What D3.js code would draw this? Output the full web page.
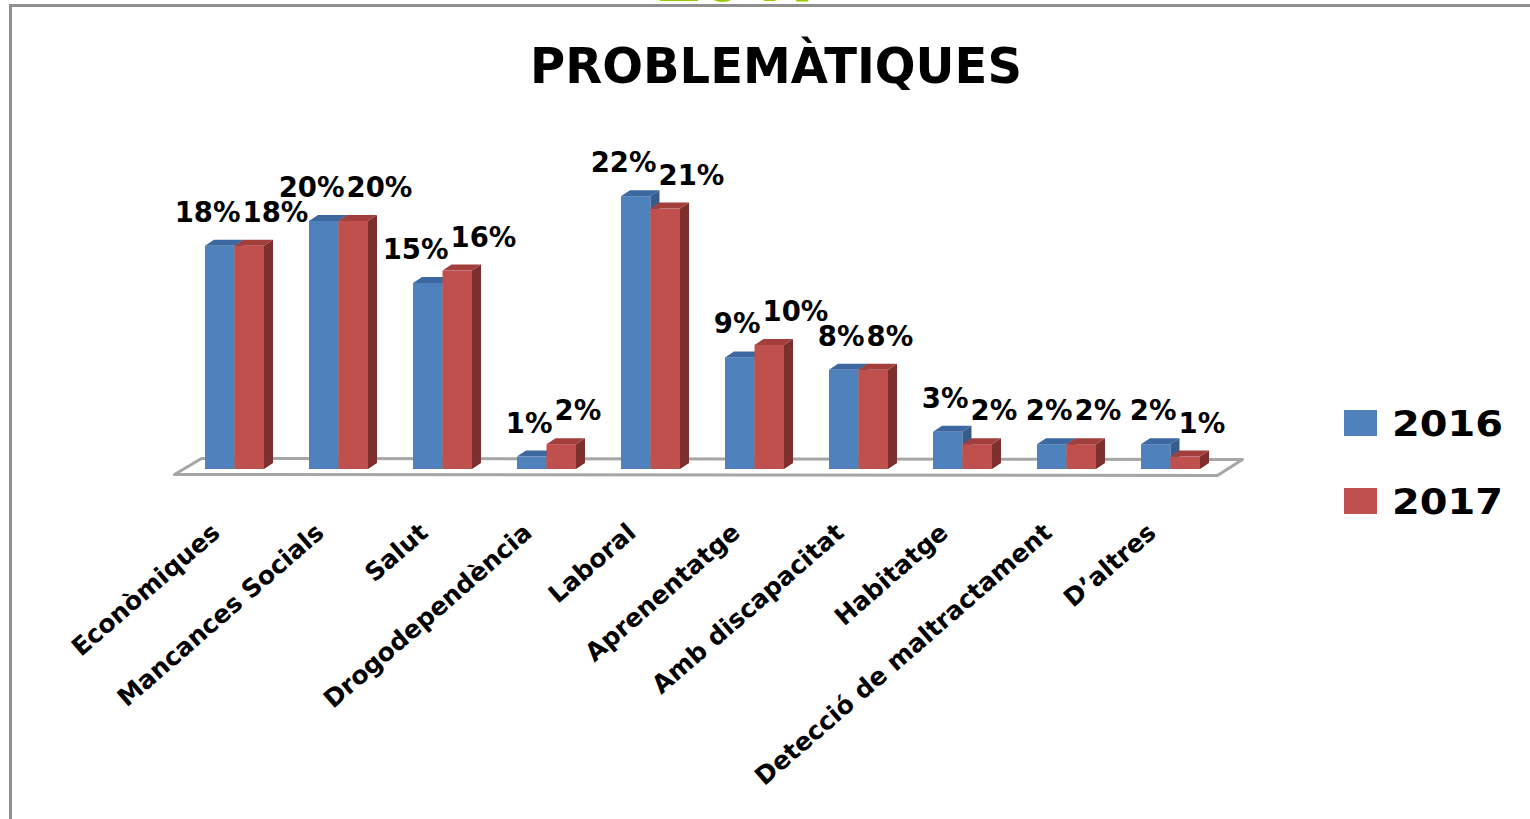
<!DOCTYPE html>
<html>
<head>
<meta charset="utf-8">
<script src="https://cdn.jsdelivr.net/npm/d3@7"></script>
<style>
  html, body { margin: 0; padding: 0; background: #fff; overflow: hidden; }
  svg { display: block; }
</style>
</head>
<body>
<svg id="chart" width="1530" height="819"></svg>
<script>
const title = "PROBLEMÀTIQUES";
const topText = "2017";
const categories = ["Econòmiques", "Mancances Socials", "Salut", "Drogodependència", "Laboral",
  "Aprenentatge", "Amb discapacitat", "Habitatge", "Detecció de maltractament", "D’altres"];
const seriesNames = ["2016", "2017"];
const values2016 = [18, 20, 15, 1, 22, 9, 8, 3, 2, 2];
const values2017 = [18, 20, 16, 2, 21, 10, 8, 2, 2, 1];

const colors = {
  "2016": { front: "#4F81BD", side: "#375C8B", top: "#3D67A0" },
  "2017": { front: "#C0504D", side: "#7D2F2D", top: "#A23F3C" }
};

const svg = d3.select("#chart");
const FONT = "'DejaVu Sans', sans-serif";

// frame
svg.append("rect").attr("x", 10.5).attr("y", 5.5).attr("width", 1560).attr("height", 860)
  .attr("fill", "none").attr("stroke", "#8f8f8f").attr("stroke-width", 3);

// cropped green text at the very top (only its lower edge shows)
svg.append("text").attr("x", 657).attr("y", 0.5).attr("font-family", "'Open Sans', sans-serif")
  .attr("font-weight", 700).attr("font-size", 78).attr("fill", "#99CC00")
  .attr("textLength", 174).attr("lengthAdjust", "spacingAndGlyphs").text(topText);

// title
svg.append("text").attr("x", 776).attr("y", 83).attr("text-anchor", "middle")
  .attr("font-family", FONT).attr("font-weight", 700).attr("font-size", 50)
  .attr("textLength", 492).attr("lengthAdjust", "spacingAndGlyphs")
  .attr("fill", "#000").text(title);

// scales
const x0 = d3.scaleBand().domain(categories).range([182.5, 1222.5])
  .paddingInner(0.433).paddingOuter(0.2165);
const x1 = d3.scaleBand().domain(seriesNames).range([0, x0.bandwidth()]);
const y = d3.scaleLinear().domain([0, 22]).range([469, 196.2]);

const DX = 9, DY = -6; // bar depth
const FDX = 27, FDY = -16; // floor depth

// floor
const r = x0.range();
const fy = 474.5;
const floorPts = [[r[0] - 8, fy], [r[1] - 5, fy + 1], [r[1] - 5 + FDX - 2, fy + 1 + FDY], [r[0] - 8 + FDX, fy + FDY]];
svg.append("path").attr("d", d3.line()(floorPts) + "Z")
  .attr("fill", "none").attr("stroke", "#a6a6a6").attr("stroke-width", 3).attr("stroke-linejoin", "round");

const data = categories.map((c, i) => ({ cat: c, vals: [
  { s: "2016", v: values2016[i] }, { s: "2017", v: values2017[i] }] }));

const groups = svg.append("g").selectAll("g").data(data).join("g");

groups.each(function(d) {
  const g = d3.select(this);
  d.vals.forEach(b => {
    const xl = x0(d.cat) + x1(b.s);
    const w = x1.bandwidth();
    const yt = y(b.v), yb = y(0);
    const c = colors[b.s];
    g.append("rect").attr("x", xl).attr("y", yt).attr("width", w).attr("height", yb - yt).attr("fill", c.front);
    g.append("path").attr("d", d3.line()([[xl + w, yt], [xl + w + DX, yt + DY], [xl + w + DX, yb + DY], [xl + w, yb]]) + "Z")
      .attr("fill", c.side);
    g.append("path").attr("d", d3.line()([[xl, yt], [xl + DX, yt + DY], [xl + w + DX, yt + DY], [xl + w, yt]]) + "Z")
      .attr("fill", c.top);
  });
});

// value labels: the pair sits side by side around a point just right of the group centre
groups.each(function(d) {
  const g = d3.select(this);
  const mid = x0(d.cat) + x0.bandwidth() / 2 + 7;
  d.vals.forEach((b, i) => {
    g.append("text").attr("x", i === 0 ? mid - 1 : mid + 1).attr("y", y(b.v) - 24)
      .attr("text-anchor", i === 0 ? "end" : "start")
      .attr("font-family", FONT).attr("font-weight", 700).attr("font-size", 27.5)
      .attr("fill", "#000").text(b.v + "%");
  });
});

// category labels
svg.append("g").selectAll("text").data(categories).join("text")
  .attr("transform", c => `translate(${x0(c) + x0.bandwidth() / 2 - 13},535) rotate(-41)`)
  .attr("text-anchor", "end").attr("font-family", FONT).attr("font-weight", 700)
  .attr("font-size", 25).attr("fill", "#000").text(c => c);

// legend
const leg = svg.append("g").selectAll("g").data(seriesNames).join("g")
  .attr("transform", (s, i) => `translate(1344,${410 + i * 78})`);
leg.append("rect").attr("width", 33).attr("height", 26).attr("fill", s => colors[s].front);
leg.append("text").attr("x", 48).attr("y", 26).attr("font-family", FONT).attr("font-weight", 700)
  .attr("font-size", 35).attr("textLength", 111).attr("lengthAdjust", "spacingAndGlyphs")
  .attr("fill", "#000").text(s => s);
</script>
</body>
</html>
